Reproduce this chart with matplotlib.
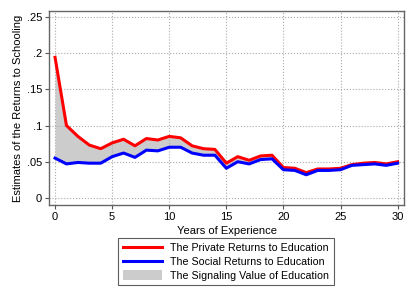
import numpy as np
import matplotlib.pyplot as plt

# Estimates
years = list(range(0, 31))
private = [0.194, 0.100, 0.085, 0.073, 0.068, 0.076, 0.081, 0.072, 0.082, 0.080,
           0.085, 0.083, 0.072, 0.068, 0.067, 0.048, 0.057, 0.052, 0.058, 0.059,
           0.042, 0.041, 0.035, 0.040, 0.040, 0.041, 0.046, 0.048, 0.049, 0.047,
           0.050]
social = [0.055, 0.047, 0.049, 0.048, 0.048, 0.057, 0.062, 0.056, 0.066, 0.065,
          0.070, 0.070, 0.062, 0.059, 0.059, 0.041, 0.050, 0.047, 0.053, 0.054,
          0.039, 0.038, 0.032, 0.038, 0.038, 0.039, 0.045, 0.046, 0.047, 0.045,
          0.048]
yticks = [0, 0.05, 0.1, 0.15, 0.2, 0.25]
ytick_labels = ['0', '.05', '.1', '.15', '.2', '.25']
xticks = [0, 5, 10, 15, 20, 25, 30]

plt.rcParams['font.family'] = ['Liberation Sans', 'DejaVu Sans']

fig = plt.figure(figsize=(4.15, 3.02), dpi=100)
ax = fig.add_axes([49/415, 1 - 205/302, 355/415, 194/302])

ax.fill_between(years, social, private, color='#cccccc', linewidth=0,
                label='The Signaling Value of Education')
ax.plot(years, private, color='red', lw=2.2, label='The Private Returns to Education')
ax.plot(years, social, color='blue', lw=2.2, label='The Social Returns to Education')

ax.set_xlim(-0.53, 30.56)
ax.set_ylim(-0.0097, 0.258)
ax.set_xticks(xticks)
ax.set_yticks(yticks)
ax.set_yticklabels(ytick_labels)
ax.tick_params(labelsize=8, length=3, color='#555555', pad=2)
ax.grid(True, linestyle=':', color='#aaaaaa', linewidth=0.8)
for s in ax.spines.values():
    s.set_color('#666666')
    s.set_linewidth(1.0)

ax.set_xlabel('Years of Experience', fontsize=8, labelpad=3)
ax.set_ylabel('Estimates of the Returns to Schooling', fontsize=8, labelpad=3)

h, l = ax.get_legend_handles_labels()
order = [1, 2, 0]
leg = fig.legend([h[i] for i in order], [l[i] for i in order],
                 loc='upper center', bbox_to_anchor=(0.545, 1 - 238/302),
                 borderaxespad=0, fontsize=7.7, frameon=True, fancybox=False,
                 edgecolor='#333333', handlelength=3.6, handleheight=1.0,
                 borderpad=0.45, labelspacing=0.3, handletextpad=0.8)
leg.get_frame().set_linewidth(0.8)

plt.savefig('out.png', dpi=100)
